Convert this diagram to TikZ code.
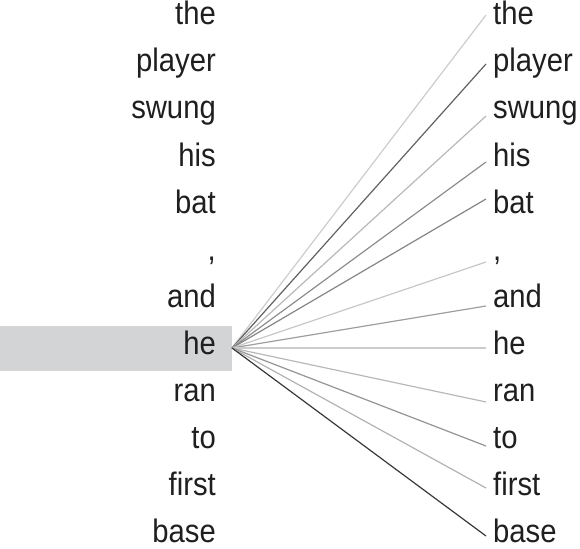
\documentclass[tikz,border=0pt]{standalone}
\usepackage{fontspec}
\setmainfont{Liberation Sans}[FakeStretch=0.9]
\begin{document}
\begin{tikzpicture}[x=1pt,y=1pt,
  word/.style={inner sep=0pt,text height=0.73em,text depth=0.12em,font=\fontsize{32.5}{33}\selectfont,text=black!88},
  lw/.style={anchor=base east,word},
  rw/.style={anchor=base west,word},
  link/.style={line width=1.2pt}]
\useasboundingbox (0,0) rectangle (580,-548);
\fill[fill={rgb,255:red,211;green,212;blue,214}] (0,-326) rectangle (232,-371);
\foreach \w [count=\i from 0] in {the,player,swung,his,bat,{,},and,he,ran,to,first,base}{
  \node[lw] (L\i) at (216,{-25-47.0*\i}) {\w};
  \node[rw] (R\i) at (493,{-25-47.0*\i}) {\w};
}
\coordinate (O) at (232,-348);
\foreach \i/\y/\g in {0/15/20,1/64/62,2/116/28,3/162/45,4/199/48,5/262/22,6/306/38,7/348/20,8/402/28,9/446/42,10/488/30,11/536/78}{
  \coordinate (E\i) at (486,-\y);
  \draw[link,black!\g] (O) -- (E\i);
}
\end{tikzpicture}
\end{document}
